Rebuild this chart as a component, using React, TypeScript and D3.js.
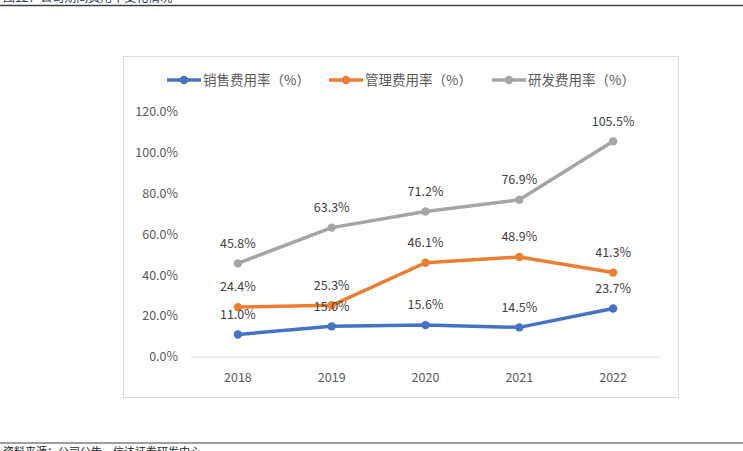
import React, { useEffect, useRef } from "react";
import * as d3 from "d3";

const years = ["2018", "2019", "2020", "2021", "2022"];
const salesRate = [11.0, 15.0, 15.6, 14.5, 23.7];
const adminRate = [24.4, 25.3, 46.1, 48.9, 41.3];
const rdRate = [45.8, 63.3, 71.2, 76.9, 105.5];
const yTicks = [0, 20, 40, 60, 80, 100, 120];

const seriesNames = ["销售费用率（%）", "管理费用率（%）", "研发费用率（%）"];
const seriesColors = ["#4472C4", "#ED7D31", "#A5A5A5"];

const FONT = "'Noto Sans CJK SC', 'Noto Sans', sans-serif";

const App: React.FC = () => {
  const svgRef = useRef<SVGSVGElement>(null);

  useEffect(() => {
    const svg = d3.select(svgRef.current);
    svg.selectAll("*").remove();

    const width = 743;

    // page title (cut off at top) and source line
    svg
      .append("text")
      .attr("x", 3)
      .attr("y", 1.8)
      .attr("font-family", FONT)
      .attr("font-size", 12)
      .attr("fill", "#1F3864")
      .text("图12：公司期间费用率变化情况");
    svg
      .append("line")
      .attr("x1", 0)
      .attr("x2", width)
      .attr("y1", 5.5)
      .attr("y2", 5.5)
      .attr("stroke", "#3f3f3f")
      .attr("stroke-width", 1.5);
    svg
      .append("line")
      .attr("x1", 0)
      .attr("x2", width)
      .attr("y1", 443)
      .attr("y2", 443)
      .attr("stroke", "#3f3f3f")
      .attr("stroke-width", 1.2);
    svg
      .append("text")
      .attr("x", 3)
      .attr("y", 456)
      .attr("font-family", FONT)
      .attr("font-size", 11)
      .attr("fill", "#222")
      .text("资料来源：公司公告，信达证券研发中心");

    // chart frame
    svg
      .append("rect")
      .attr("x", 123.5)
      .attr("y", 56.5)
      .attr("width", 555)
      .attr("height", 341)
      .attr("fill", "#fff")
      .attr("stroke", "#d9d9d9")
      .attr("stroke-width", 1);

    const x = d3.scaleBand<string>().domain(years).range([191, 660]);
    const y = d3.scaleLinear().domain([0, 120]).range([357, 111.7]);
    const cx = (d: string) => (x(d) ?? 0) + x.bandwidth() / 2;

    // baseline
    svg
      .append("line")
      .attr("x1", 191)
      .attr("x2", 660)
      .attr("y1", y(0))
      .attr("y2", y(0))
      .attr("stroke", "#d9d9d9")
      .attr("stroke-width", 1);

    // y tick labels
    svg
      .append("g")
      .selectAll("text")
      .data(yTicks)
      .join("text")
      .attr("x", 178)
      .attr("y", (d) => y(d))
      .attr("dy", "0.35em")
      .attr("text-anchor", "end")
      .attr("font-family", FONT)
      .attr("font-size", 12.5)
      .attr("fill", "#595959")
      .text((d) => d.toFixed(1) + "%");

    // x labels
    svg
      .append("g")
      .selectAll("text")
      .data(years)
      .join("text")
      .attr("x", (d) => cx(d))
      .attr("y", 378)
      .attr("dy", "0.35em")
      .attr("text-anchor", "middle")
      .attr("font-family", FONT)
      .attr("font-size", 12.5)
      .attr("fill", "#595959")
      .text((d) => d);

    const allSeries = [salesRate, adminRate, rdRate];
    const line = d3
      .line<number>()
      .x((_d, i) => cx(years[i]))
      .y((d) => y(d));

    allSeries.forEach((vals, si) => {
      const g = svg.append("g");
      g.append("path")
        .attr("d", line(vals) ?? "")
        .attr("fill", "none")
        .attr("stroke", seriesColors[si])
        .attr("stroke-width", 3.5)
        .attr("stroke-linejoin", "round")
        .attr("stroke-linecap", "round");
      g.selectAll("circle")
        .data(vals)
        .join("circle")
        .attr("cx", (_d, i) => cx(years[i]))
        .attr("cy", (d) => y(d))
        .attr("r", 4.2)
        .attr("fill", seriesColors[si]);
    });

    // data labels drawn on top
    allSeries.forEach((vals) => {
      svg
        .append("g")
        .selectAll("text")
        .data(vals)
        .join("text")
        .attr("x", (_d, i) => cx(years[i]))
        .attr("y", (d) => y(d) - 20)
        .attr("dy", "0.35em")
        .attr("text-anchor", "middle")
        .attr("font-family", FONT)
        .attr("font-size", 12.5)
        .attr("fill", "#404040")
        .text((d) => d.toFixed(1) + "%");
    });

    // legend
    const legendX = [167, 329, 492];
    const legend = svg
      .append("g")
      .selectAll("g")
      .data(seriesNames)
      .join("g")
      .attr("transform", (_d, i) => `translate(${legendX[i]},80)`);
    legend
      .append("line")
      .attr("x1", 0)
      .attr("x2", 34)
      .attr("stroke", (_d, i) => seriesColors[i])
      .attr("stroke-width", 3.5);
    legend
      .append("circle")
      .attr("cx", 17)
      .attr("r", 4.2)
      .attr("fill", (_d, i) => seriesColors[i]);
    legend
      .append("text")
      .attr("x", 36)
      .attr("dy", "0.35em")
      .attr("font-family", FONT)
      .attr("font-size", 13.5)
      .attr("fill", "#595959")
      .text((d) => d);
  }, []);

  return (
    <svg
      ref={svgRef}
      width={743}
      height={451}
      style={{ position: "absolute", left: 0, top: 0, background: "#fff" }}
    ></svg>
  );
};

export default App;
